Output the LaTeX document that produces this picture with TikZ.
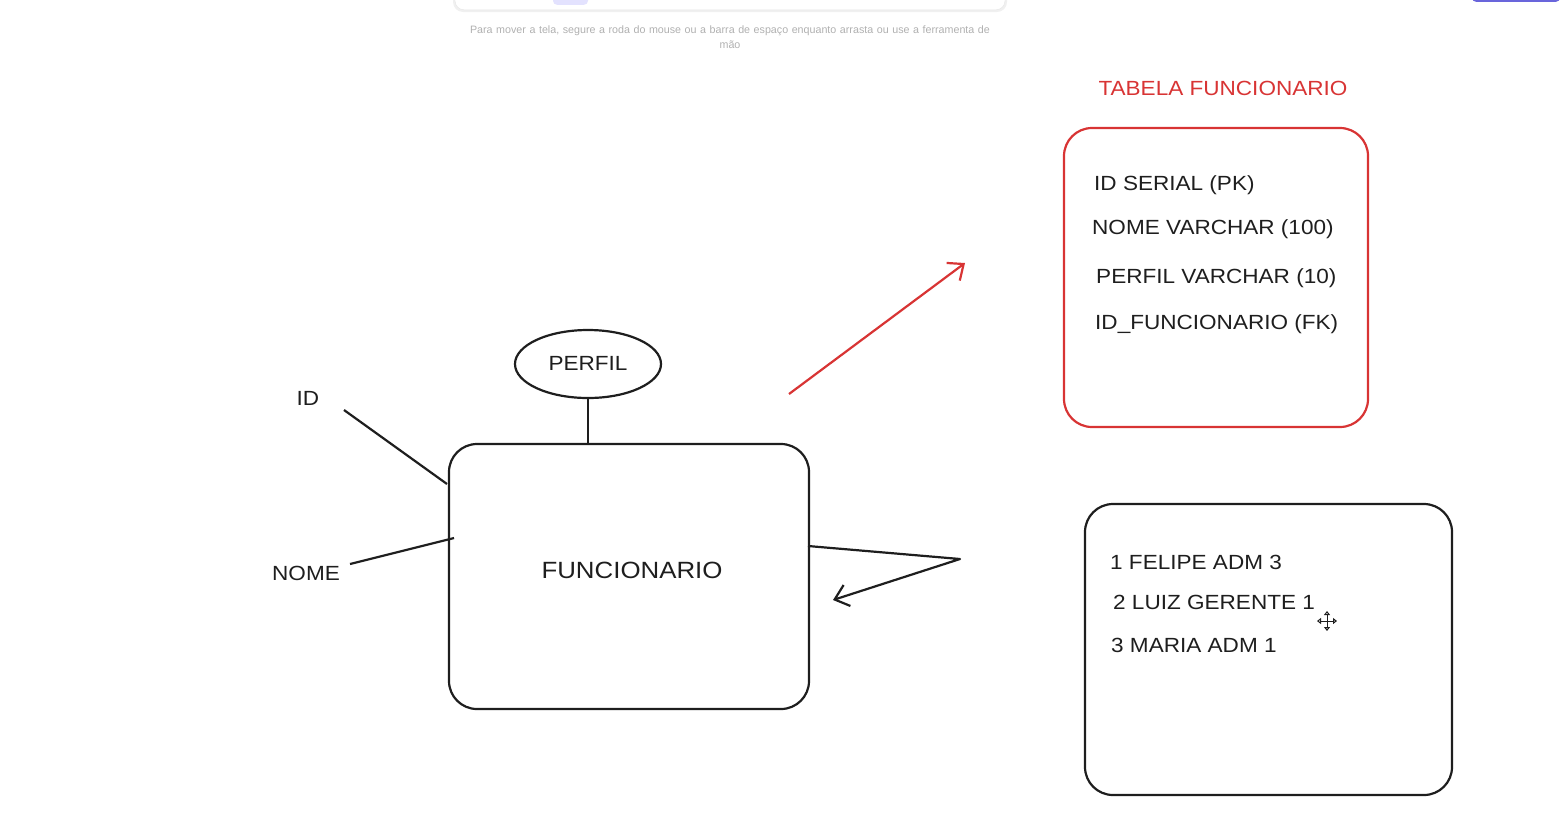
\documentclass[tikz,border=0pt]{standalone}
\usepackage{fontspec}
\setmainfont{Liberation Sans}
\newfontfamily\handfont[FakeStretch=1.1]{Liberation Sans}
\usetikzlibrary{arrows.meta,shapes.geometric}
\definecolor{exred}{HTML}{D83434}
\definecolor{ink}{HTML}{1E1E1E}
\definecolor{hintgray}{HTML}{B0B0B0}
\definecolor{lavender}{HTML}{E3E2FE}
\definecolor{violet}{HTML}{6965DB}
\tikzset{
  x=1pt, y=-1pt,
  sketchbox/.style={draw=ink, line width=2.2pt, rounded corners=28pt, fill=none, inner sep=0pt},
  redbox/.style={draw=exred, line width=2.2pt, rounded corners=28pt, inner sep=0pt},
  label/.style={font=\handfont\fontsize{20.5}{24}\selectfont, text=ink, inner sep=0pt},
  rowtxt/.style={font=\handfont\fontsize{20.5}{24}\selectfont, text=ink, inner sep=0pt, anchor=west},
  link/.style={draw=ink, line width=2.2pt},
  arr/.style={draw=ink, line width=2.2pt, -{Straight Barb[length=13pt,width=22pt,line width=2.2pt]}},
  redarr/.style={draw=exred, line width=2.2pt, -{Straight Barb[length=13pt,width=22pt,line width=2.2pt]}},
}
\begin{document}
\begin{tikzpicture}
\useasboundingbox (0,0) rectangle (1564,823);
% top toolbar fragment
\fill[black!6, rounded corners=10pt] (453,-20) rectangle (1007,12);
\node[draw=black!10, fill=white, rounded corners=9pt, minimum width=550pt, minimum height=30pt, anchor=south, inner sep=0pt] (toolbar) at (730,10) {};
\node[fill=lavender, rounded corners=4pt, minimum width=35pt, minimum height=12pt, anchor=south, inner sep=0pt] (tool) at (570.5,5) {};
\node[fill=violet, rounded corners=4pt, minimum width=88pt, minimum height=10pt, anchor=south, inner sep=0pt] (btn) at (1516,2) {};
\node[text=hintgray, font=\fontsize{10.7}{15}\selectfont, align=center, text width=560pt, inner sep=0pt] (hint) at (730,37.5)
  {Para mover a tela, segure a roda do mouse ou a barra de espaço enquanto arrasta ou use a ferramenta de\\mão};

% title
\node[font=\handfont\fontsize{20.5}{24}\selectfont, text=exred, inner sep=0pt] (title) at (1223,88) {TABELA FUNCIONARIO};

% red table box
\node[redbox, minimum width=304pt, minimum height=299pt] (tab) at (1216,277.5) {};
\node[rowtxt] (r1) at (1094,185) {ID SERIAL (PK)};
\node[rowtxt] (r2) at (1092,229) {NOME VARCHAR (100)};
\node[rowtxt] (r3) at (1096,278) {PERFIL VARCHAR (10)};
\node[rowtxt] (r4) at (1095,324) {ID\_FUNCIONARIO (FK)};

% data box
\node[sketchbox, minimum width=367pt, minimum height=291pt] (data) at (1268.5,649.5) {};
\node[rowtxt] (d1) at (1110,562) {1 FELIPE ADM 3};
\node[rowtxt] (d2) at (1113,602) {2 LUIZ GERENTE 1};
\node[rowtxt] (d3) at (1111,645) {3 MARIA ADM 1};

% entity
\node[sketchbox, minimum width=360pt, minimum height=265pt] (fun) at (629,576.5) {};
\node[font=\handfont\fontsize{23.5}{27}\selectfont, text=ink, inner sep=0pt] (funtxt) at (632,570) {FUNCIONARIO};

% attribute PERFIL
\node[ellipse, draw=ink, line width=2.2pt, minimum width=146pt, minimum height=68pt, inner sep=0pt] (perfil) at (588,364) {};
\node[label] (perfiltxt) at (588,363) {PERFIL};
\draw[link] (perfil.south) -- (perfil.south |- fun.north);

% attribute ID
\node[label] (idtxt) at (308,398) {ID};
\coordinate (idend) at (344,410);
\coordinate (idjoin) at (447,484);
\draw[link] (idend) -- (idjoin);

% attribute NOME
\node[label] (nometxt) at (306,573) {NOME};
\coordinate (nomeend) at (350,564);
\coordinate (nomejoin) at (454,538);
\draw[link] (nomeend) -- (nomejoin);

% red arrow
\coordinate (redstart) at (789,394);
\coordinate (redend) at (965,263);
\draw[redarr] (redstart) -- (redend);

% self-referencing arrow
\coordinate (selfstart) at (808,546);
\coordinate (selfturn) at (960,559);
\coordinate (selfend) at (833,600);
\draw[arr, line join=round] (selfstart) -- (selfturn) -- (selfend);

% move cursor icon
\begin{scope}[shift={(1327,621)}]
  \draw[ink, line width=1pt, {Triangle[open,length=4pt,width=6pt]}-{Triangle[open,length=4pt,width=6pt]}] (-10,0) -- (10,0);
  \draw[ink, line width=1pt, {Triangle[open,length=4pt,width=6pt]}-{Triangle[open,length=4pt,width=6pt]}] (0,-10) -- (0,10);
\end{scope}
\end{tikzpicture}
\end{document}
